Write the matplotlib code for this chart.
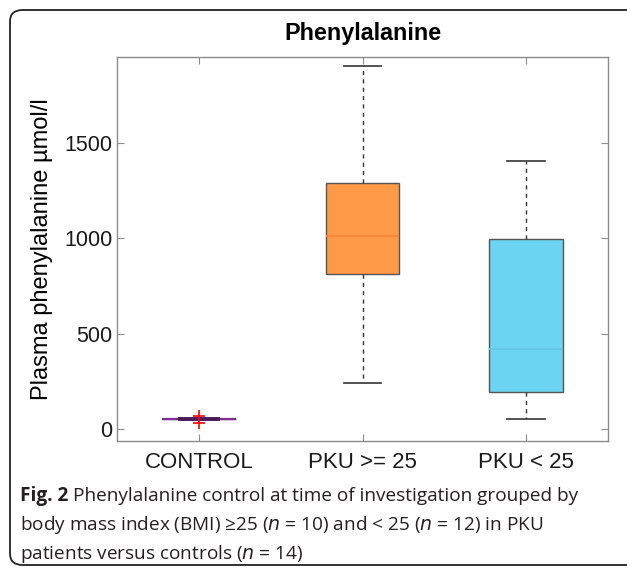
import matplotlib
matplotlib.use('Agg')
import matplotlib.pyplot as plt
from matplotlib.patches import FancyBboxPatch
import numpy as np

# box statistics (umol/l)
groups = ['CONTROL', 'PKU >= 25', 'PKU < 25']
q1 = [50, 812, 194]
med = [52, 1010, 419]
q3 = [53, 1288, 995]
wlo = [51, 241, 52]
whi = [53, 1902, 1403]
fliers = [[68, 33], [], []]
face_cols = ['none', '#FF9A48', '#6BD4F2']
med_cols = ['#7E2F8E', '#F8853A', '#62C4E6']
edge_cols = ['#7E2F8E', '#555555', '#555555']

W, H = 627, 569
fig = plt.figure(figsize=(W / 100, H / 100), dpi=100)

# rounded frame around the figure + caption
frame = FancyBboxPatch((10 / W, 4 / H), (W + 20) / W, (H - 14) / H,
                       boxstyle='round,pad=0,rounding_size=0.02',
                       transform=fig.transFigure, fill=False,
                       edgecolor='#222222', linewidth=1.3)
fig.patches.append(frame)

ax = fig.add_axes([117 / W, 1 - 441 / H, (608 - 117) / W, (441 - 57) / H])

stats = []
for i in range(3):
    stats.append(dict(med=med[i], q1=q1[i], q3=q3[i], whislo=wlo[i],
                      whishi=whi[i], fliers=fliers[i], label=groups[i]))

bp = ax.bxp(stats, positions=[1, 2, 3], widths=0.45, patch_artist=True,
            showfliers=True, manage_ticks=False)
for i in range(3):
    b = bp['boxes'][i]
    b.set_facecolor(face_cols[i])
    b.set_edgecolor(edge_cols[i])
    b.set_linewidth(1.0)
    bp['medians'][i].set_color(med_cols[i])
    bp['medians'][i].set_linewidth(1.2 if i else 1.6)
for j, w in enumerate(bp['whiskers']):
    w.set_linestyle((0, (3, 3)))
    w.set_color('#333333')
    w.set_linewidth(1.0)
for j, c in enumerate(bp['caps']):
    c.set_color('#444444')
    c.set_linewidth(1.3)
    xd = c.get_xdata()
    ctr = (xd[0] + xd[1]) / 2
    c.set_xdata([ctr - 0.115, ctr + 0.115])
for f in bp['fliers']:
    f.set_marker('+')
    f.set_markeredgecolor('red')
    f.set_markersize(8)
    f.set_markeredgewidth(1.2)
    f.set_zorder(4)

# control box: dark caps overlapping the purple median
for k in (0, 1):
    bp['caps'][k].set_color('#4B1A5A')
    bp['caps'][k].set_linewidth(2.6)
    bp['caps'][k].set_zorder(3)

ax.set_xlim(0.5, 3.5)
ax.set_ylim(-63, 1950)
ax.set_xticks([1, 2, 3])
ax.set_xticklabels(groups)
ax.set_yticks([0, 500, 1000, 1500])
for s in ax.spines.values():
    s.set_color('#8C8C8C')
    s.set_linewidth(1.0)
ax.tick_params(direction='in', top=True, right=True, length=5,
               color='#8C8C8C', labelcolor='#1A1A1A',
               labelfontfamily='Liberation Sans')
ax.tick_params(axis='y', labelsize=15.5)
ax.tick_params(axis='x', labelsize=16, pad=8)
ax.set_title('Phenylalanine', fontsize=16.8, fontweight='bold',
             family='Liberation Sans', pad=12)
ax.set_ylabel('Plasma phenylalanine \u00b5mol/l', fontsize=17,
              family='Liberation Sans', labelpad=8)

# caption
cap_kw = dict(fontsize=13.7, family='Open Sans', color='#231F20', va='baseline')
t1 = fig.text(20 / W, 1 - 501 / H, 'Fig. 2', fontweight='bold', **cap_kw)
fig.canvas.draw()
bb = t1.get_window_extent()
fig.text((bb.x1 + 5) / W, 1 - 501 / H,
         'Phenylalanine control at time of investigation grouped by', **cap_kw)
fig.text(20 / W, 1 - 530 / H,
         'body mass index (BMI) \u226525 ($n$ = 10) and < 25 ($n$ = 12) in PKU',
         **cap_kw)
fig.text(20 / W, 1 - 559 / H, 'patients versus controls ($n$ = 14)', **cap_kw)

fig.savefig('out.png', dpi=100)
